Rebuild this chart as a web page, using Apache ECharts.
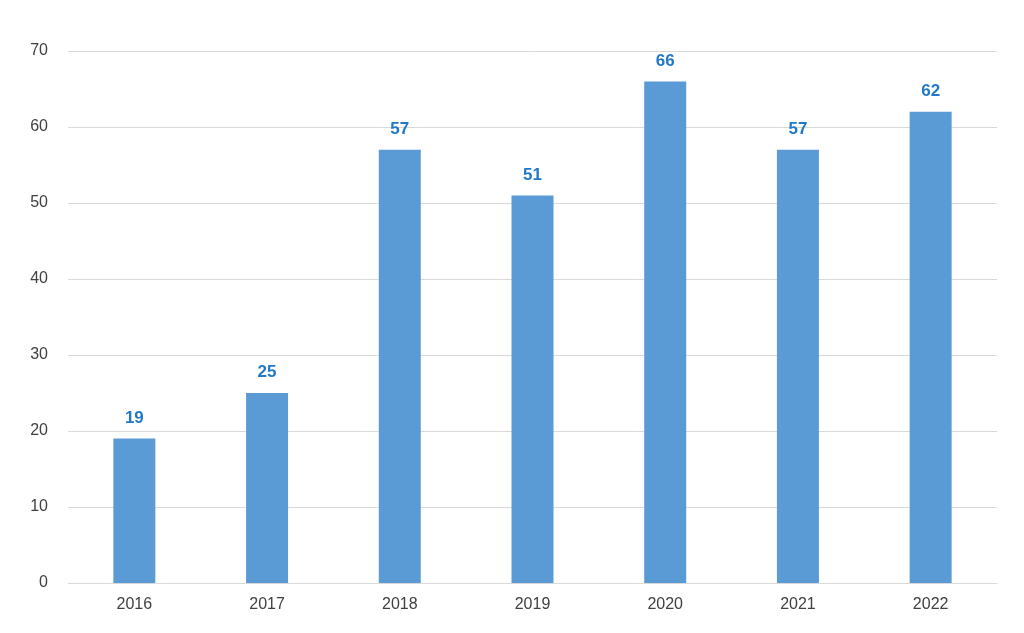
<!DOCTYPE html>
<html>
<head>
<meta charset="UTF-8">
<title>Bar chart</title>
<script src="https://cdn.jsdelivr.net/npm/echarts@6/dist/echarts.min.js"></script>
<style>
  html, body { margin: 0; padding: 0; background: #fff; }
  #chartmain { width: 1024px; height: 633px; }
</style>
</head>
<body>
<div id="chartmain"></div>
<script>
// data
var years = ["2016", "2017", "2018", "2019", "2020", "2021", "2022"];
var counts = [19, 25, 57, 51, 66, 57, 62];

var mychart = echarts.init(document.getElementById("chartmain"));
mychart.setOption({
    animation: false,
    grid: { left: 68, right: 27, top: 51, bottom: 50 },
    xAxis: {
        type: 'category',
        data: years,
        axisTick: { show: false },
        axisLine: { lineStyle: { color: '#d9d9d9' } },
        axisLabel: { color: '#404040', fontSize: 16, fontFamily: 'Liberation Sans', margin: 14 }
    },
    yAxis: {
        type: 'value',
        min: 0,
        max: 70,
        interval: 10,
        axisLabel: { color: '#404040', fontSize: 16, fontFamily: 'Liberation Sans', margin: 20 },
        splitLine: { lineStyle: { color: '#d9d9d9' } }
    },
    series: [{
        type: 'bar',
        data: counts,
        barWidth: 42,
        itemStyle: { color: '#5b9bd5' },
        label: {
            show: true,
            position: 'top',
            distance: 12,
            color: '#1f78c8',
            fontWeight: 'bold',
            fontSize: 17,
            fontFamily: 'Liberation Sans'
        }
    }]
});
</script>
</body>
</html>
